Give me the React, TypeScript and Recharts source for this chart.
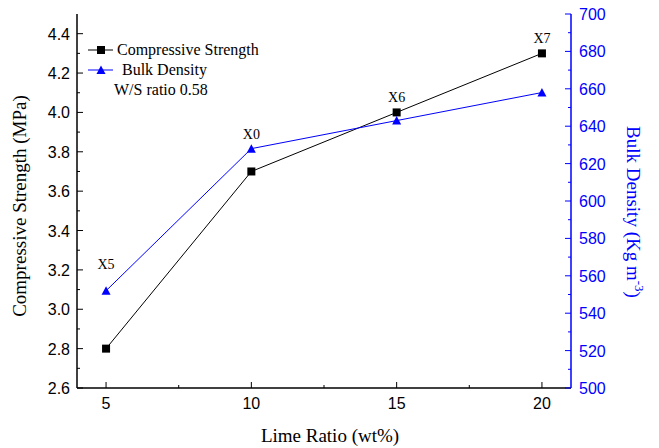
import React from 'react';
import { ComposedChart, Line, XAxis, YAxis, LabelList, Customized } from 'recharts';

// lime ratio (wt%) per mix
const limeRatio = [5, 10, 15, 20];
const strength = [2.8, 3.7, 4.0, 4.3];
const density = [552, 628, 643, 658];
const mixNames = ['X5', 'X0', 'X6', 'X7'];
// which curve each mix name sits on
const mixOn = ['density', 'density', 'strength', 'strength'];

const xTicks = [5, 7.5, 10, 12.5, 15, 17.5, 20];
const strengthTicks = [2.6, 2.7, 2.8, 2.9, 3.0, 3.1, 3.2, 3.3, 3.4, 3.5, 3.6, 3.7, 3.8, 3.9, 4.0, 4.1, 4.2, 4.3, 4.4];
const densityTicks = [500, 510, 520, 530, 540, 550, 560, 570, 580, 590, 600, 610, 620, 630, 640, 650, 660, 670, 680, 690, 700];

const data = limeRatio.map((x, i) => ({
  lime: x,
  strength: strength[i],
  density: density[i],
  mix: mixNames[i],
}));

const SERIF = '"Liberation Serif", "Times New Roman", serif';
const SANS = '"Liberation Sans", Arial, sans-serif';
const BLUE = '#0000ff';
const MAJOR = 6;
const MINOR = 3;

const isMajorX = (v: number) => v % 5 === 0;
const isMajorStrength = (v: number) => Math.round(v * 10) % 2 === 0;
const isMajorDensity = (v: number) => v % 20 === 0;

const BottomTick = (props: any) => {
  const { x, y, payload } = props;
  const major = isMajorX(payload.value);
  return (
    <g>
      <line x1={x} x2={x} y1={y} y2={y - (major ? MAJOR : MINOR)} stroke="#000" strokeWidth={1} />
      {major && (
        <text x={x} y={y + 21} textAnchor="middle" fontFamily={SANS} fontSize={16} fill="#000">
          {payload.value}
        </text>
      )}
    </g>
  );
};

const TopTick = (props: any) => {
  const { x, y, payload } = props;
  const major = isMajorX(payload.value);
  return <line x1={x} x2={x} y1={y} y2={y + (major ? MAJOR : MINOR)} stroke="#000" strokeWidth={1} />;
};

const LeftTick = (props: any) => {
  const { x, y, payload } = props;
  const major = isMajorStrength(payload.value);
  return (
    <g>
      <line x1={x} x2={x + (major ? MAJOR : MINOR)} y1={y} y2={y} stroke="#000" strokeWidth={1} />
      {major && (
        <text x={x - 7} y={y + 6} textAnchor="end" fontFamily={SANS} fontSize={16} fill="#000">
          {payload.value.toFixed(1)}
        </text>
      )}
    </g>
  );
};

const RightTick = (props: any) => {
  const { x, y, payload } = props;
  const major = isMajorDensity(payload.value);
  return (
    <g>
      <line x1={x} x2={x - (major ? MAJOR : MINOR)} y1={y} y2={y} stroke={BLUE} strokeWidth={1} />
      {major && (
        <text x={x + 8} y={y + 6} textAnchor="start" fontFamily={SANS} fontSize={16} fill={BLUE}>
          {payload.value}
        </text>
      )}
    </g>
  );
};

const SquareDot = (props: any) => {
  const { cx, cy } = props;
  return <rect x={cx - 4} y={cy - 4} width={8} height={8} fill="#000" />;
};

const TriangleDot = (props: any) => {
  const { cx, cy } = props;
  return <polygon points={`${cx - 4.5},${cy + 4} ${cx + 4.5},${cy + 4} ${cx},${cy - 4.5}`} fill={BLUE} />;
};

const mixLabel = (series: string) => (props: any) => {
  const { x, y, index, value } = props;
  if (mixOn[index] !== series) return null;
  const lift = index === 0 ? 22 : 10;
  return (
    <text x={x} y={y - lift} textAnchor="middle" fontFamily={SERIF} fontSize={14} fill="#000">
      {value}
    </text>
  );
};

const Decorations = () => (
  <g>
    {/* legend */}
    <line x1={88} x2={113} y1={50} y2={50} stroke="#000" strokeWidth={1} />
    <rect x={97} y={46} width={8} height={8} fill="#000" />
    <text x={117} y={55} fontFamily={SERIF} fontSize={16} fill="#000">Compressive Strength</text>
    <line x1={88} x2={113} y1={70} y2={70} stroke={BLUE} strokeWidth={1} />
    <polygon points="96.5,74 105.5,74 101,65.5" fill={BLUE} />
    <text x={122} y={75} fontFamily={SERIF} fontSize={16} fill="#000">Bulk Density</text>
    <text x={114} y={95} fontFamily={SERIF} fontSize={16} fill="#000">W/S ratio 0.58</text>

    {/* axis titles */}
    <text x={330} y={442} textAnchor="middle" fontFamily={SERIF} fontSize={19} fill="#000">
      Lime Ratio (wt%)
    </text>
    <text
      transform="translate(26,206) rotate(-90)"
      textAnchor="middle"
      fontFamily={SERIF}
      fontSize={19}
      fill="#000"
    >
      Compressive Strength (MPa)
    </text>
    <text
      transform="translate(627,212) rotate(90)"
      textAnchor="middle"
      fontFamily={SERIF}
      fontSize={19}
      fill={BLUE}
    >
      Bulk Density (Kg m
      <tspan dy={-8} fontSize={13}>-3</tspan>
      <tspan dy={8}>)</tspan>
    </text>
  </g>
);

export default function App() {
  return (
    <div style={{ position: 'absolute', left: 0, top: 0, width: 659, height: 448, background: '#fff' }}>
      <ComposedChart
        width={659}
        height={448}
        data={data}
        margin={{ top: 14, right: 0, bottom: 0, left: 0 }}
      >
        <XAxis
          xAxisId="bottom"
          dataKey="lime"
          type="number"
          domain={[4, 21]}
          ticks={xTicks}
          interval={0}
          height={60}
          tickSize={0}
          tickMargin={0}
          tickLine={false}
          tick={<BottomTick />}
          axisLine={{ stroke: '#000', strokeWidth: 1.5 }}
        />
        <XAxis
          xAxisId="top"
          orientation="top"
          dataKey="lime"
          type="number"
          domain={[4, 21]}
          ticks={xTicks}
          interval={0}
          height={0}
          tickSize={0}
          tickMargin={0}
          tickLine={false}
          tick={<TopTick />}
          axisLine={{ stroke: '#000', strokeWidth: 1.5 }}
        />
        <YAxis
          yAxisId="strength"
          type="number"
          domain={[2.6, 4.5]}
          ticks={strengthTicks}
          interval={0}
          width={77}
          tickSize={0}
          tickMargin={0}
          tickLine={false}
          tick={<LeftTick />}
          axisLine={{ stroke: '#000', strokeWidth: 1.5 }}
          allowDataOverflow
        />
        <YAxis
          yAxisId="density"
          orientation="right"
          type="number"
          domain={[500, 700]}
          ticks={densityTicks}
          interval={0}
          width={88}
          tickSize={0}
          tickMargin={0}
          tickLine={false}
          tick={<RightTick />}
          axisLine={{ stroke: BLUE, strokeWidth: 1.5 }}
          allowDataOverflow
        />
        <Line
          xAxisId="bottom"
          yAxisId="strength"
          dataKey="strength"
          stroke="#000"
          strokeWidth={1}
          dot={<SquareDot />}
          activeDot={false}
          isAnimationActive={false}
        >
          <LabelList dataKey="mix" content={mixLabel('strength')} />
        </Line>
        <Line
          xAxisId="bottom"
          yAxisId="density"
          dataKey="density"
          stroke={BLUE}
          strokeWidth={1}
          dot={<TriangleDot />}
          activeDot={false}
          isAnimationActive={false}
        >
          <LabelList dataKey="mix" content={mixLabel('density')} />
        </Line>
        <Customized component={Decorations} />
      </ComposedChart>
    </div>
  );
}
